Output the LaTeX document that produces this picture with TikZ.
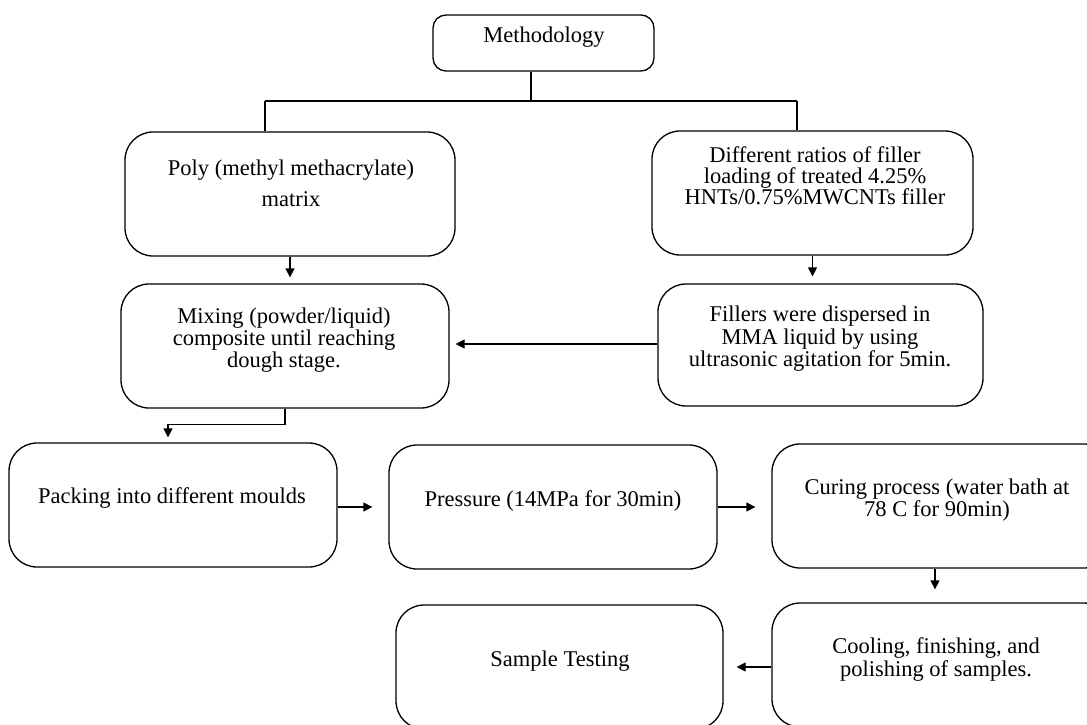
\documentclass[tikz,border=0pt]{standalone}
\usepackage{fontspec}
\setmainfont{Liberation Serif}
\usetikzlibrary{arrows.meta}
\begin{document}
\begin{tikzpicture}[x=1pt,y=-1pt,
  box/.style={draw, line width=1.3pt, rounded corners=28pt, inner sep=0pt},
  txt/.style={align=center, inner sep=0pt, font=\fontsize{22.5}{22}\selectfont},
  arr/.style={line width=1.3pt, -{Triangle[width=9pt,length=9pt]}},
  thk/.style={line width=2.6pt}]
\useasboundingbox (0,0) rectangle (1087,724);
\clip (0,0) rectangle (1087,724);
% boxes
\node[box, rounded corners=13pt, minimum width=221pt, minimum height=56pt] (meth) at (543.5,43) {};
\node[box, minimum width=330pt, minimum height=124pt] (pmma) at (290,194) {};
\node[box, minimum width=321pt, minimum height=124pt] (diff) at (812.5,193) {};
\node[box, minimum width=328pt, minimum height=124pt] (mix) at (285,346) {};
\node[box, minimum width=325pt, minimum height=122pt] (fill) at (820.5,345) {};
\node[box, minimum width=328pt, minimum height=124pt] (pack) at (173,505) {};
\node[box, minimum width=328pt, minimum height=124pt] (press) at (553,507) {};
\node[box, minimum width=340pt, minimum height=124pt] (cure) at (942,506) {};
\node[box, minimum width=340pt, minimum height=124pt] (cool) at (942,665) {};
\node[box, minimum width=327pt, minimum height=124pt] (samp) at (559.5,667) {};
% texts
\node[txt] (tmeth) at (544,37) {Methodology};
\node[txt, font=\fontsize{22.5}{31}\selectfont] (tpmma) at (291,183.5) {Poly (methyl methacrylate)\\matrix};
\node[txt, font=\fontsize{22.5}{21}\selectfont] (tdiff) at (815,176) {Different ratios of filler\\loading of treated 4.25\%\\HNTs/0.75\%MWCNTs filler};
\node[txt] (tmix) at (284,340) {Mixing (powder/liquid)\\composite until reaching\\dough stage.};
\node[txt, font=\fontsize{22.5}{22.5}\selectfont] (tfill) at (820,339) {Fillers were dispersed in\\MMA liquid by using\\ultrasonic agitation for 5min.};
\node[txt] (tpack) at (172,498) {Packing into different moulds};
\node[txt] (tpress) at (553,501) {Pressure (14MPa for 30min)};
\node[txt] (tcure) at (937,500) {Curing process (water bath at\\78 C for 90min)};
\node[txt, font=\fontsize{22.5}{23}\selectfont] (tcool) at (936,659.5) {Cooling, finishing, and\\polishing of samples.};
\node[txt] (tsamp) at (560,661) {Sample Testing};
% top connector
\coordinate (mj) at (531,101);
\coordinate (lj) at (265,101);
\coordinate (rj) at (797,101);
\draw[thk] (mj |- meth.south) -- (mj);
\draw[thk] (lj) -- (rj);
\draw[thk] (lj) -- (lj |- pmma.north);
\draw[thk] (rj) -- (rj |- diff.north);
% arrows
\draw[arr, shorten >=6pt] (pmma.south) -- (pmma.south |- mix.north);
\draw[arr, shorten >=7pt] (diff.south) -- (diff.south |- fill.north);
\draw[arr, shorten >=6pt] (fill.west |- 0,344) -- (mix.east |- 0,344);
\draw[arr, shorten >=5pt] (mix.south) -- ++(0,16) -| ([xshift=-5pt]pack.north);
\draw[arr, shorten >=16pt] (pack.east |- 0,507) -- (press.west |- 0,507);
\draw[arr, shorten >=16pt] (press.east |- 0,507) -- (cure.west |- 0,507);
\draw[arr, shorten >=13pt] (cure.south -| 935,0) -- (cool.north -| 935,0);
\draw[arr, shorten >=13pt] (cool.west |- 0,667) -- (samp.east |- 0,667);
\end{tikzpicture}
\end{document}
